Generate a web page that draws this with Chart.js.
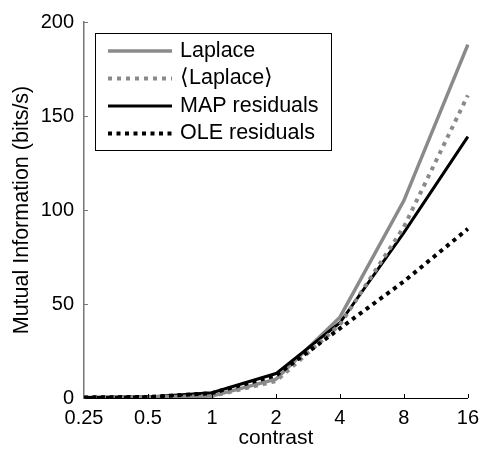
<!DOCTYPE html>
<html><head><meta charset="utf-8">
<script src="https://cdn.jsdelivr.net/npm/chart.js@4"></script>
<style>html,body{margin:0;padding:0;background:#fff}#wrap{width:487px;height:455px}</style>
</head><body><div id="wrap"><canvas id="c" width="487" height="455"></canvas></div>
<script>
const contrast = ['0.25','0.5','1','2','4','8','16'];
const laplace = [0.2, 0.4, 1, 10, 43, 105, 188];
const laplaceAvg = [0.2, 0.4, 1, 9, 39, 91, 161];
const mapResid = [0.3, 0.6, 2.8, 13, 40, 88, 139];
const oleResid = [0.3, 0.6, 2.6, 12, 37, 62, 90];
const seriesNames = ['Laplace', '\u27E8Laplace\u27E9', 'MAP residuals', 'OLE residuals'];
const yTicks = [0, 50, 100, 150, 200];

const FONT = "'Liberation Sans', Arial, Helvetica, sans-serif";
const GRAY = '#8a8a8a';

const legendBox = {
  id: 'legendBox',
  afterDatasetsDraw(chart) {
    const ctx = chart.ctx;
    const ca = chart.chartArea;
    const x0 = ca.left + 11, y0 = ca.top + 11, w = 236, h = 117;
    ctx.save();
    ctx.fillStyle = '#fff';
    ctx.fillRect(x0, y0, w, h);
    ctx.strokeStyle = '#000';
    ctx.lineWidth = 1;
    ctx.strokeRect(x0 + 0.5, y0 + 0.5, w, h);
    ctx.font = '21.5px ' + FONT;
    ctx.textBaseline = 'middle';
    chart.data.datasets.forEach((ds, i) => {
      const cy = y0 + 18 + i * 27.5;
      ctx.beginPath();
      ctx.strokeStyle = ds.borderColor;
      ctx.lineWidth = ds.borderWidth;
      ctx.setLineDash(ds.borderDash || []);
      ctx.moveTo(x0 + 13, cy);
      ctx.lineTo(x0 + 77, cy);
      ctx.stroke();
      ctx.setLineDash([]);
      ctx.fillStyle = '#000';
      ctx.fillText(ds.label, x0 + 85, cy);
    });
    ctx.restore();
  }
};

const inwardTicks = {
  id: 'inwardTicks',
  afterDraw(chart) {
    const ctx = chart.ctx;
    const ca = chart.chartArea;
    const xs = chart.scales.x, ys = chart.scales.y;
    ctx.save();
    ctx.lineWidth = 1;
    ctx.strokeStyle = '#000';
    contrast.forEach((c, i) => {
      if (i === 0) return;
      const px = Math.round(xs.getPixelForValue(i)) + 0.5;
      ctx.beginPath();
      ctx.moveTo(px, ca.bottom);
      ctx.lineTo(px, ca.bottom - 4);
      ctx.stroke();
    });
    ctx.strokeStyle = '#777';
    yTicks.forEach(v => {
      if (v === 0) return;
      const py = Math.round(ys.getPixelForValue(v)) + 0.5;
      ctx.beginPath();
      ctx.moveTo(ca.left, py);
      ctx.lineTo(ca.left + 4, py);
      ctx.stroke();
    });
    ctx.restore();
  }
};

new Chart(document.getElementById('c'), {
  type: 'line',
  data: {
    labels: contrast,
    datasets: [
      { label: seriesNames[0], data: laplace, borderColor: GRAY, borderWidth: 3.5, borderDash: [], pointRadius: 0, tension: 0, order: 3 },
      { label: seriesNames[1], data: laplaceAvg, borderColor: GRAY, borderWidth: 4, borderDash: [4, 5], pointRadius: 0, tension: 0, order: 1 },
      { label: seriesNames[2], data: mapResid, borderColor: '#000', borderWidth: 3, borderDash: [], pointRadius: 0, tension: 0, order: 2 },
      { label: seriesNames[3], data: oleResid, borderColor: '#000', borderWidth: 4, borderDash: [4, 4.5], pointRadius: 0, tension: 0, order: 0 }
    ]
  },
  options: {
    responsive: false,
    animation: false,
    events: [],
    layout: { padding: { top: 14, right: 14, left: 0, bottom: 0 } },
    plugins: { legend: { display: false }, tooltip: { enabled: false } },
    scales: {
      x: {
        type: 'category',
        offset: false,
        grid: { display: true, drawOnChartArea: false, drawTicks: false, tickLength: 0 },
        border: { display: true, color: '#000', width: 1 },
        ticks: { color: '#000', font: { family: FONT, size: 20 }, padding: 8, maxRotation: 0, autoSkip: false },
        title: { display: true, text: 'contrast', color: '#000', font: { family: FONT, size: 21 }, padding: { top: 0, bottom: 4 } },
        afterFit(s) { s.height = 57; }
      },
      y: {
        min: 0, max: 200,
        afterBuildTicks(s) { s.ticks = yTicks.map(v => ({ value: v })); },
        grid: { display: true, drawOnChartArea: false, drawTicks: false, tickLength: 0 },
        border: { display: true, color: '#777', width: 1.5 },
        ticks: { color: '#000', font: { family: FONT, size: 20 }, padding: 10 },
        title: { display: true, text: 'Mutual Information (bits/s)', color: '#000', font: { family: FONT, size: 21.5 }, padding: { top: 9, bottom: 0 } },
        afterFit(s) { s.width = 84; }
      }
    }
  },
  plugins: [legendBox, inwardTicks]
});
</script>
</body></html>
